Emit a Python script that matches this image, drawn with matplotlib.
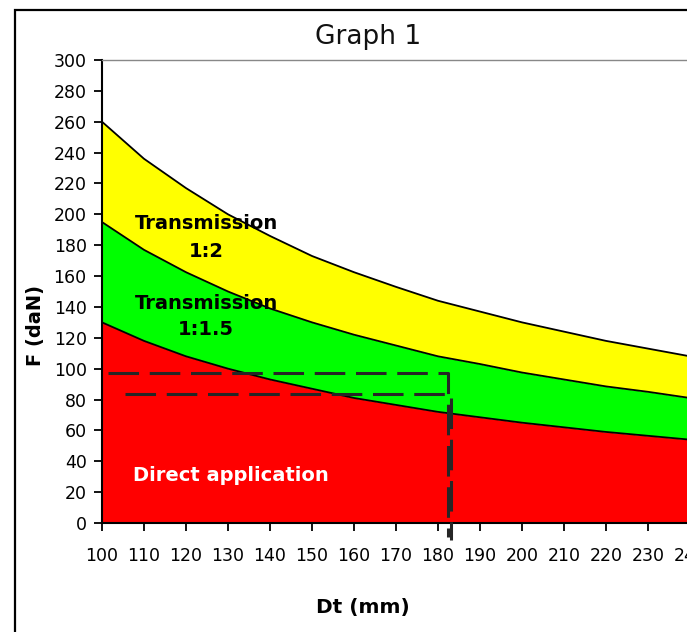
import matplotlib
matplotlib.use("Agg")
import matplotlib.pyplot as plt
from matplotlib.patches import Rectangle

# Data
dt = [100, 110, 120, 130, 140, 150, 160, 170, 180, 190, 200, 210, 220, 230, 240]
direct = [130, 118, 108, 100, 93, 87, 81, 76.5, 72, 68.5, 65, 62, 59, 56.5, 54]
trans_15 = [195, 177, 162.5, 150, 139, 130, 122, 115, 108, 103, 97.5, 93, 88.5, 85, 81]
trans_2 = [260, 236, 217, 200, 186, 173, 162.5, 153, 144, 137, 130, 124, 118, 113, 108]
x_ticks = list(range(100, 250, 10))
y_ticks = list(range(0, 320, 20))
# reading lines (dashed)
read1_x = [101.5, 182.3, 182.3]
read1_y = [97, 97, -9]
read2_x = [105.5, 183.2, 183.2]
read2_y = [83.6, 83.6, -11]

W, H = 687, 632
fig = plt.figure(figsize=(W / 100, H / 100), dpi=100)

# outer frame
fig.patches.append(Rectangle((15 / W, -0.1), 1.2, (H - 10) / H + 0.1,
                             transform=fig.transFigure, fill=False,
                             edgecolor="black", linewidth=1.6, zorder=0))

left, right, top, bottom = 102, 690, 60, 523
ax = fig.add_axes([left / W, 1 - bottom / H, (right - left) / W, (bottom - top) / H])
ax.set_xlim(100, 240)
ax.set_ylim(0, 300)

ax.fill_between(dt, 0, direct, color="#FF0000", linewidth=0, zorder=1)
ax.fill_between(dt, direct, trans_15, color="#00FF00", linewidth=0, zorder=1)
ax.fill_between(dt, trans_15, trans_2, color="#FFFF00", linewidth=0, zorder=1)
for s in (direct, trans_15, trans_2):
    ax.plot(dt, s, color="black", linewidth=1.3, zorder=2)

ax.plot(read1_x, read1_y, color="#262626", linewidth=2.2, dashes=(10, 3.5),
        clip_on=False, zorder=3)
ax.plot(read2_x, read2_y, color="#262626", linewidth=2.2, dashes=(10, 3.5),
        clip_on=False, zorder=3)

ax.set_xticks(x_ticks)
ax.set_yticks(y_ticks)
tickfont = {"family": ["Liberation Sans Narrow", "DejaVu Sans"], "size": 12.5}
ax.set_xticklabels([str(v) for v in x_ticks], fontdict=tickfont)
ax.set_yticklabels([str(v) for v in y_ticks], fontdict=tickfont)
ax.tick_params(axis="both", direction="out", length=6, width=1.3, color="black")
ax.tick_params(axis="x", pad=11)
ax.tick_params(axis="y", pad=5)

for sp in ("left", "bottom"):
    ax.spines[sp].set_linewidth(1.5)
    ax.spines[sp].set_color("black")
ax.spines["top"].set_color("#888888")
ax.spines["top"].set_linewidth(1.0)
ax.spines["right"].set_visible(False)

bold = dict(fontweight="bold", fontsize=14, family="DejaVu Sans")
ax.text(124.8, 185, "Transmission\n1:2", ha="center", va="center",
        color="black", linespacing=1.55, **bold)
ax.text(124.8, 134, "Transmission\n1:1.5", ha="center", va="center",
        color="black", linespacing=1.45, **bold)
ax.text(107.3, 31, "Direct application", ha="left", va="center",
        color="white", **bold)

fig.text(368 / W, 1 - 37 / H, "Graph 1", ha="center", va="center",
         fontsize=19, color="#111111", family="DejaVu Sans")
fig.text(36 / W, 1 - 325 / H, "F (daN)", ha="center", va="center",
         rotation=90, fontsize=14, fontweight="bold", family="DejaVu Sans")
fig.text(363 / W, 1 - 607 / H, "Dt (mm)", ha="center", va="center",
         fontsize=14.5, fontweight="bold", family="DejaVu Sans")

fig.savefig("out.png", dpi=100)
